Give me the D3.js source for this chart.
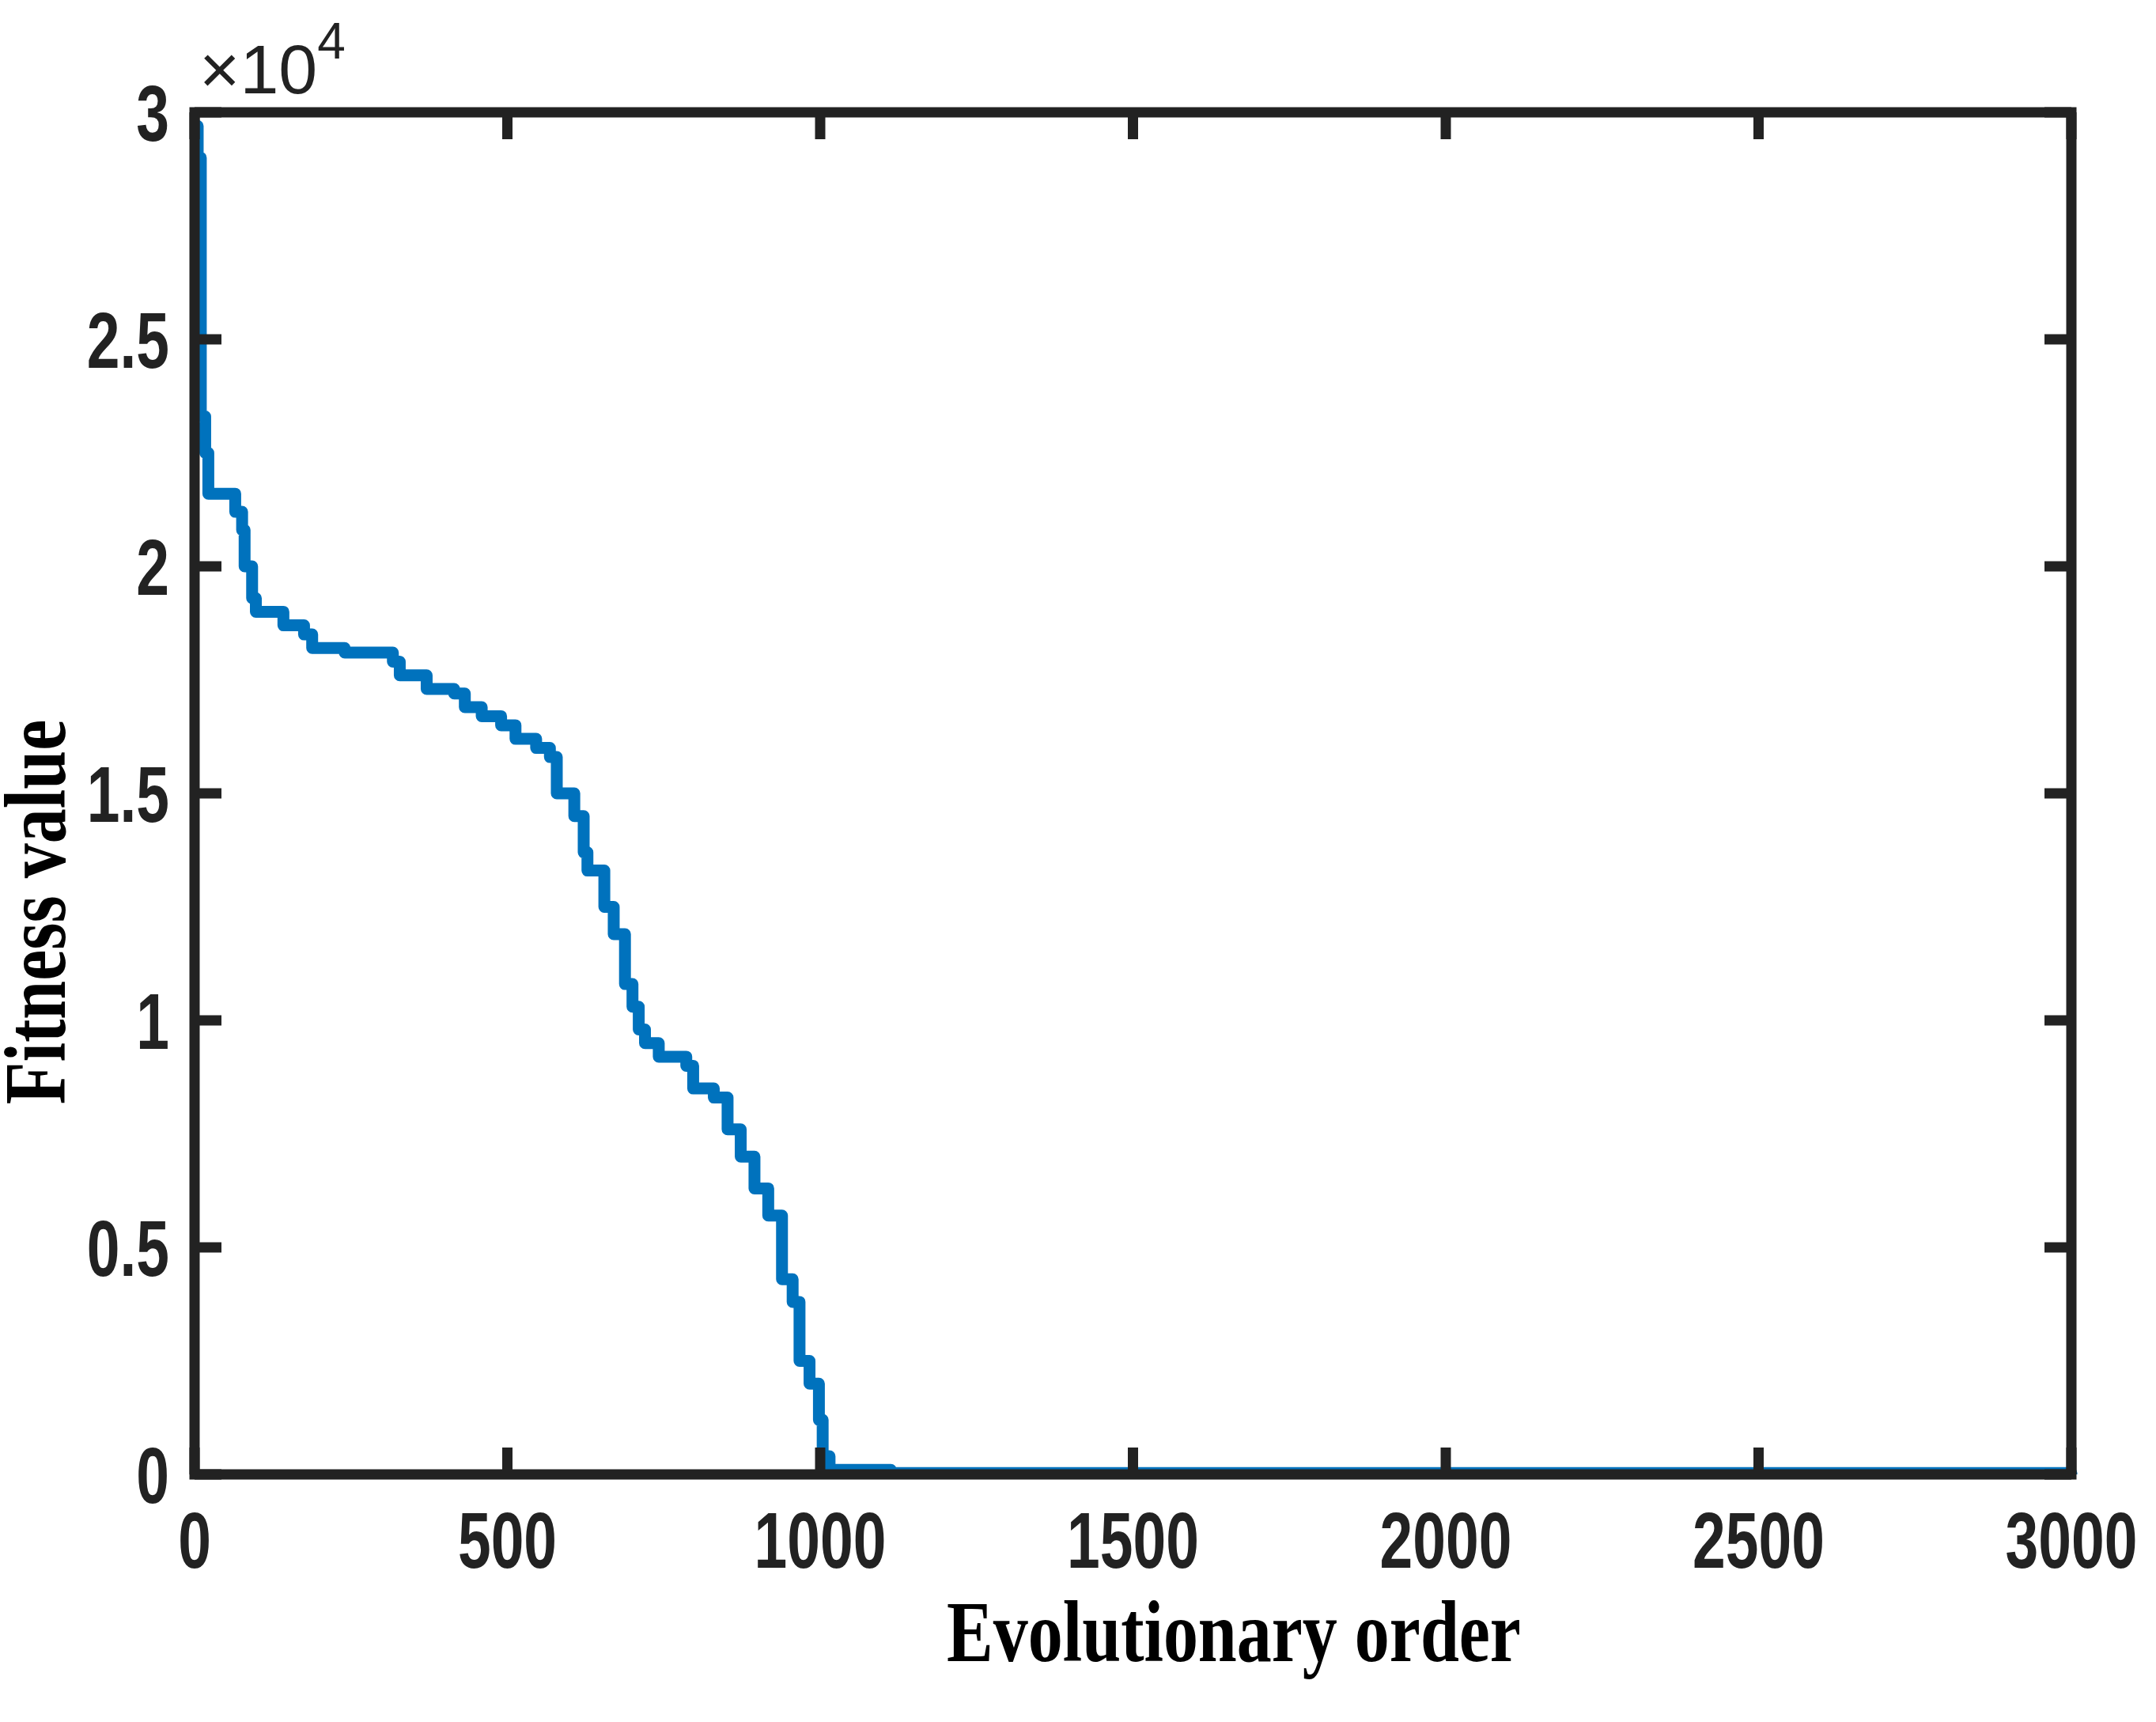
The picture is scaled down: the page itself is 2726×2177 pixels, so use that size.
<!DOCTYPE html>
<html><head><meta charset="utf-8">
<script src="https://cdn.jsdelivr.net/npm/d3@7"></script>
<style>body{margin:0;background:#fff}</style>
</head><body>
<div class="container"></div>
<script>
// evolution curve (step changes)
var gens = [0, 5, 10, 17, 22, 65, 76, 80, 92, 98, 142, 175, 188, 240, 317, 328, 371, 415, 432, 459, 490, 513, 546, 568, 579, 607, 622, 628, 655, 670, 688, 700, 710, 720, 742, 786, 797, 830, 852, 873, 895, 917, 939, 956, 967, 983, 998, 1004, 1015, 1113, 3000];
var fitness = [29700, 29000, 23300, 22500, 21600, 21200, 20800, 20000, 19300, 19000, 18700, 18500, 18200, 18100, 17900, 17600, 17300, 17200, 16900, 16700, 16500, 16200, 16000, 15800, 15000, 14500, 13700, 13300, 12500, 11900, 10800, 10300, 9800, 9500, 9200, 9000, 8500, 8300, 7600, 7000, 6300, 5700, 4300, 3800, 2500, 2000, 1200, 400, 100, 30, 0];
var xTicks = [0, 500, 1000, 1500, 2000, 2500, 3000];
var yTicks = [0, 5000, 10000, 15000, 20000, 25000, 30000];
var yTickLabels = ["0", "0.5", "1", "1.5", "2", "2.5", "3"];

var W = 2726, H = 2177;
var L = 246, R = 2619, T = 142, B = 1864;
var ink = "#222222";
var tickFont = "'Liberation Sans',Arial,sans-serif";

var paper = d3.select('.container').append('svg')
	.attr('width', W).attr('height', H);

var x = d3.scaleLinear().domain([0, 3000]).range([L, R]);
var y = d3.scaleLinear().domain([0, 30000]).range([B, T]);

// condensed text: draw at origin, scale x, then move
function label(px, py, str, anchor, size, sx, font, rot) {
	var g = paper.append('g').attr('transform',
		'translate(' + px + ',' + py + ')' + (rot ? ' rotate(' + rot + ')' : '') + ' scale(' + sx + ',1)');
	return g.append('text').attr('text-anchor', anchor)
		.attr('font-family', font).attr('font-weight', 'bold')
		.attr('font-size', size).attr('fill', ink).text(str);
}

// the curve
var line = d3.line().x(function (d, i) { return x(gens[i]); })
	.y(function (d) { return y(d); })
	.curve(d3.curveStepAfter);
paper.append('path').datum(fitness)
	.attr('d', line).attr('fill', 'none')
	.attr('stroke', '#0072BD').attr('stroke-width', 15)
	.attr('stroke-linejoin', 'round');

// box and inward ticks
paper.append('rect').attr('x', L).attr('y', T)
	.attr('width', R - L).attr('height', B - T)
	.attr('fill', 'none').attr('stroke', ink).attr('stroke-width', 13);

var tl = 34;
xTicks.forEach(function (v) {
	paper.append('line').attr('x1', x(v)).attr('x2', x(v)).attr('y1', B).attr('y2', B - tl)
		.attr('stroke', ink).attr('stroke-width', 13);
	paper.append('line').attr('x1', x(v)).attr('x2', x(v)).attr('y1', T).attr('y2', T + tl)
		.attr('stroke', ink).attr('stroke-width', 13);
	label(x(v), B + 118, v, 'middle', 100, 0.75, tickFont);
});
yTicks.forEach(function (v, i) {
	paper.append('line').attr('x1', L).attr('x2', L + tl).attr('y1', y(v)).attr('y2', y(v))
		.attr('stroke', ink).attr('stroke-width', 13);
	paper.append('line').attr('x1', R).attr('x2', R - tl).attr('y1', y(v)).attr('y2', y(v))
		.attr('stroke', ink).attr('stroke-width', 13);
	label(L - 32, y(v) + 36, yTickLabels[i], 'end', 100, 0.75, tickFont);
});

// exponent
var ex = paper.append('text').attr('x', 252).attr('y', 118)
	.attr('font-family', tickFont).attr('font-size', 88).attr('fill', ink);
ex.append('tspan').text('\u00d710');
ex.append('tspan').attr('dy', -44).attr('font-size', 64).text('4');

// axis labels
var labFont = "'Liberation Serif','Times New Roman',serif";
label(1560, 2100, 'Evolutionary order', 'middle', 110, 0.8, labFont).attr('fill', '#000');
label(82, 1153, 'Fitness value', 'middle', 110, 0.8, labFont, -90).attr('fill', '#000');
</script>
</body></html>
